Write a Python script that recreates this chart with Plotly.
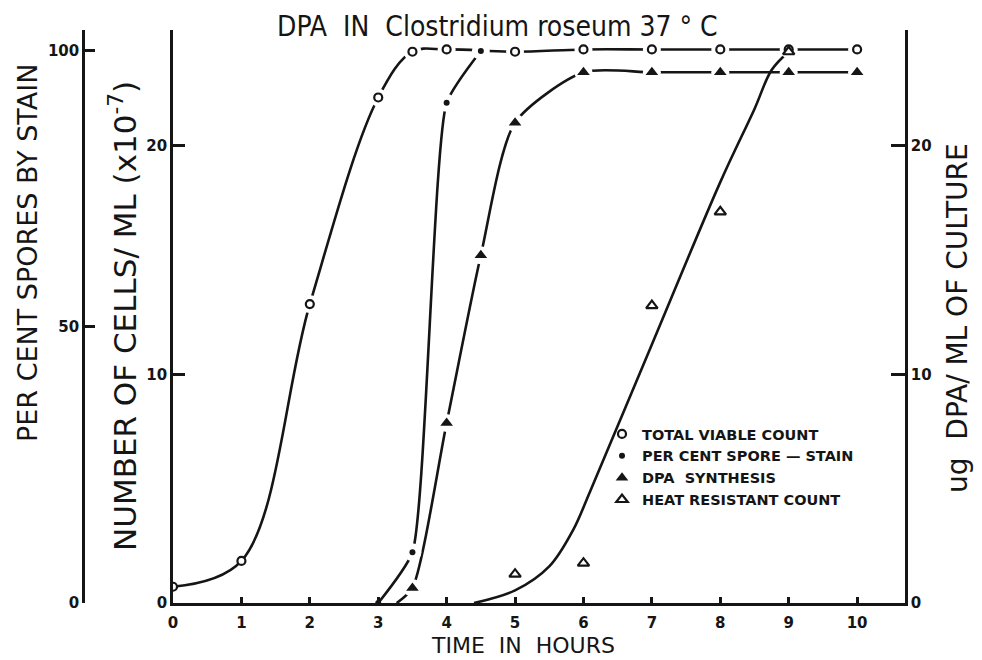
import plotly.graph_objects as go

# hours after inoculation
# total viable count, cells / ml (x10^-7)
tvc_hours = [0, 1, 2, 3, 3.5, 4, 5, 6, 7, 8, 9, 10]
tvc_count = [0.71, 1.84, 13.07, 22.1, 24.1, 24.2, 24.1, 24.2, 24.2, 24.2, 24.2, 24.2]

# per cent spores by stain
spore_hours = [3, 3.5, 4, 4.5]
spore_pct = [0, 9.2, 90.6, 100]

# ug DPA / ml of culture
dpa_hours = [3.5, 4, 4.5, 5, 6, 7, 8, 9, 10]
dpa_ug = [0.66, 7.87, 15.2, 21.0, 23.2, 23.2, 23.2, 23.2, 23.2]
# hand drawn curve leaves the time axis a little before the first point
dpa_curve_hours = [3.27] + dpa_hours
dpa_curve_ug = [0.0] + dpa_ug

# heat resistant count, cells / ml (x10^-7)
hr_hours = [5, 6, 7, 8, 9]
hr_count = [1.26, 1.74, 13.0, 17.1, 24.1]
# the fitted curve drawn through them
hr_curve_hours = [4.4, 5.0, 5.5, 5.85, 6.1, 7.0, 8.0, 8.5, 8.75, 9.0]
hr_curve_count = [0.0, 0.55, 1.6, 3.2, 4.9, 11.3, 18.4, 21.6, 23.3, 24.1]

x_ticks = list(range(0, 11))
cells_ticks = [0, 10, 20]
pct_ticks = [0, 50, 100]
dpa_ticks = [0, 10, 20]

INK = "#151515"
FONT = "DejaVu Sans"
# the page body adds an 8px margin, so the figure is 8px smaller than the window
# and positions below are given in window pixels
OFF = 8
W, H = 982 - OFF, 660 - OFF
PLOT_L, PLOT_R, PLOT_T, PLOT_B = 173, 905, 30, 603
L, R, T, B = 0, W - (PLOT_R - OFF), PLOT_T - OFF, H - (PLOT_B - OFF)
PW, PH = W - L - R, H - T - B
Y_TOP = 25.05            # cells axis top
PCT_TOP = 103.8          # per cent axis top


def px(x):
    return (x - OFF - L) / PW


def py(y):
    return (PLOT_B - y) / PH


fig = go.Figure()


def curve(smooth):
    return dict(color=INK, width=2.6, shape="spline", smoothing=smooth)


# curves
fig.add_trace(go.Scatter(x=tvc_hours, y=tvc_count, mode="lines", line=curve(1.0),
                         showlegend=False, hoverinfo="skip"))
fig.add_trace(go.Scatter(x=spore_hours, y=spore_pct, mode="lines", line=curve(0.5),
                         yaxis="y3", showlegend=False, hoverinfo="skip"))
fig.add_trace(go.Scatter(x=dpa_curve_hours, y=dpa_curve_ug, mode="lines", line=curve(0.7),
                         yaxis="y2", showlegend=False, hoverinfo="skip"))
fig.add_trace(go.Scatter(x=hr_curve_hours, y=hr_curve_count, mode="lines", line=curve(1.0),
                         showlegend=False, hoverinfo="skip"))

# white halos so the lines break around the points
halo = dict(color="white", size=18, line=dict(width=0))
fig.add_trace(go.Scatter(x=tvc_hours[2:], y=tvc_count[2:], mode="markers", marker=halo,
                         showlegend=False, hoverinfo="skip"))
fig.add_trace(go.Scatter(x=spore_hours[1:], y=spore_pct[1:], mode="markers", marker=halo,
                         yaxis="y3", showlegend=False, hoverinfo="skip"))
fig.add_trace(go.Scatter(x=dpa_hours, y=dpa_ug, mode="markers", marker=halo,
                         yaxis="y2", showlegend=False, hoverinfo="skip"))

# points
fig.add_trace(go.Scatter(
    x=tvc_hours, y=tvc_count, mode="markers", name="TOTAL VIABLE COUNT",
    marker=dict(symbol="circle", size=8, color="white", line=dict(color=INK, width=2.2))))
fig.add_trace(go.Scatter(
    x=spore_hours, y=spore_pct, mode="markers", name="PER CENT SPORE \u2014 STAIN", yaxis="y3",
    marker=dict(symbol="circle", size=6, color=INK)))
fig.add_trace(go.Scatter(
    x=dpa_hours, y=dpa_ug, mode="markers", name="DPA\u00a0\u00a0SYNTHESIS", yaxis="y2",
    marker=dict(symbol="triangle-up", size=11, color=INK)))
fig.add_trace(go.Scatter(
    x=hr_hours, y=hr_count, mode="markers", name="HEAT RESISTANT COUNT",
    marker=dict(symbol="triangle-up", size=10, color="white", line=dict(color=INK, width=2.2))))

tickfont = dict(family=FONT, size=15, color=INK, weight="bold")
axis_common = dict(showline=True, linecolor=INK, linewidth=2.6, showgrid=False,
                   zeroline=False, ticks="inside", tickcolor=INK, tickwidth=2.6,
                   tickfont=tickfont, automargin=False)

fig.update_layout(
    width=W, height=H,
    margin=dict(l=L, r=R, t=T, b=B),
    paper_bgcolor="white", plot_bgcolor="white",
    xaxis=dict(domain=[px(PLOT_L), 1], range=[0, 10.7], tickvals=x_ticks,
               ticklen=6, ticklabelstandoff=4, **axis_common),
    yaxis=dict(range=[0, Y_TOP], tickvals=cells_ticks, ticklen=12, **axis_common),
    yaxis2=dict(range=[0, Y_TOP], tickvals=dpa_ticks, ticklen=14, overlaying="y",
                side="right", anchor="x", **axis_common),
    yaxis3=dict(range=[0, PCT_TOP], tickvals=pct_ticks, ticklen=10, overlaying="y",
                side="left", anchor="free", position=px(83), **axis_common),
    legend=dict(x=px(602), y=py(418), xanchor="left", yanchor="top",
                bgcolor="rgba(0,0,0,0)", font=dict(family=FONT, size=14.5, color=INK, weight="bold"),
                itemwidth=30, tracegroupgap=0),
    showlegend=True,
)

title_font = dict(family="Liberation Sans Narrow, DejaVu Sans Condensed, DejaVu Sans", size=28, color=INK)

fig.add_annotation(text="DPA\u00a0\u00a0IN\u00a0\u00a0Clostridium roseum 37\u00a0\u00b0\u00a0C",
                   x=px(497), y=py(26), xref="paper", yref="paper", showarrow=False,
                   font=title_font, xanchor="center", yanchor="middle")
fig.add_annotation(text="TIME\u00a0\u00a0IN\u00a0\u00a0HOURS", x=px(523), y=py(645),
                   xref="paper", yref="paper", showarrow=False, font=dict(family=FONT, size=22, color=INK),
                   xanchor="center", yanchor="middle")
fig.add_annotation(text="PER CENT SPORES BY STAIN", x=px(28), y=py(253), textangle=-90,
                   xref="paper", yref="paper", showarrow=False, font=dict(family=FONT, size=27, color=INK),
                   xanchor="center", yanchor="middle")
fig.add_annotation(text="NUMBER OF CELLS/\u00a0ML (x10<sup>-7</sup>)", x=px(123), y=py(316), textangle=-90,
                   xref="paper", yref="paper", showarrow=False, font=dict(family=FONT, size=31, color=INK),
                   xanchor="center", yanchor="middle")
fig.add_annotation(text="ug\u00a0\u00a0DPA/\u00a0ML\u00a0OF\u00a0CULTURE", x=px(957), y=py(318), textangle=-90,
                   xref="paper", yref="paper", showarrow=False, font=dict(family=FONT, size=28, color=INK),
                   xanchor="center", yanchor="middle")

fig.write_html("out.html")
